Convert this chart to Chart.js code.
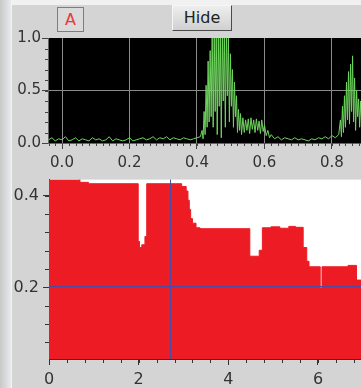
<!DOCTYPE html>
<html>
<head>
<meta charset="utf-8">
<script src="https://cdn.jsdelivr.net/npm/chart.js@4.4.1/dist/chart.umd.min.js"></script>
<style>
  html, body { margin: 0; padding: 0; }
  body { width: 361px; height: 388px; background: #d4d4d4; position: relative; overflow: hidden; font-family: "DejaVu Sans", sans-serif; }
  #topStrip { position: absolute; left: 0; top: 0; width: 361px; height: 5px; background: #f1f1f1; }
  #sideStrip { position: absolute; left: 0; top: 0; width: 11px; height: 388px; background: linear-gradient(to right, #c8c8c8, #e8eaee); border-right: 1px solid #f4f4f4; }
  .chartBox { position: absolute; left: 0; width: 361px; }
  #topBox { top: 0; height: 172px; }
  #bottomBox { top: 166px; height: 222px; }
  #badge { position: absolute; left: 57px; top: 7px; width: 25px; height: 23px; border: 1px solid #e85050; background: #dadada; color: #e83838; font-size: 16px; text-align: center; line-height: 23px; }
  #hide { position: absolute; left: 172px; top: 5px; width: 58px; height: 24px; border: 1px solid; border-color: #f6f6f6 #4a4a4a #4a4a4a #f6f6f6; background: linear-gradient(#eeeeee, #d0d0d0); color: #222; font-size: 16px; text-align: center; line-height: 24px; }
</style>
</head>
<body>
<div id="topStrip"></div>
<div id="sideStrip"></div>
<div class="chartBox" id="topBox"><canvas id="topChart"></canvas></div>
<div class="chartBox" id="bottomBox"><canvas id="bottomChart"></canvas></div>
<div id="badge">A</div>
<div id="hide">Hide</div>
<script>
// upper trace (green signal)
const greenX = [
  -0.04, -0.03, -0.02, -0.01, 0.00, 0.01, 0.02, 0.03, 0.04, 0.05, 0.06, 0.07, 0.08, 0.09, 0.10,
  0.11, 0.12, 0.13, 0.14, 0.15, 0.16, 0.17, 0.18, 0.19, 0.20, 0.21, 0.22, 0.23, 0.24, 0.25,
  0.26, 0.27, 0.28, 0.29, 0.30, 0.31, 0.32, 0.33, 0.34, 0.35, 0.36, 0.37, 0.38, 0.39, 0.40, 0.41,
  0.415, 0.418, 0.421, 0.424, 0.427, 0.430, 0.433, 0.436, 0.439, 0.442, 0.445, 0.448, 0.451, 0.454,
  0.457, 0.460, 0.463, 0.466, 0.469, 0.472, 0.475, 0.478, 0.481, 0.484, 0.487, 0.490, 0.493, 0.496,
  0.499, 0.502, 0.505, 0.508, 0.511, 0.514, 0.517, 0.520, 0.523, 0.526, 0.529, 0.532, 0.536, 0.540,
  0.544, 0.548, 0.552, 0.556, 0.560, 0.564, 0.568, 0.572, 0.576, 0.580, 0.584, 0.588, 0.592, 0.596,
  0.600, 0.605, 0.610, 0.615, 0.620,
  0.63, 0.64, 0.65, 0.66, 0.67, 0.68, 0.69, 0.70, 0.71, 0.72, 0.73, 0.74, 0.75, 0.76, 0.77,
  0.78, 0.79, 0.80, 0.81, 0.82,
  0.825, 0.828, 0.831, 0.834, 0.837, 0.840, 0.843, 0.846, 0.849, 0.852, 0.855, 0.858, 0.861,
  0.864, 0.867, 0.870, 0.873, 0.876, 0.879, 0.882, 0.885, 0.888
];
const greenY = [
  0.03, 0.05, 0.02, 0.04, 0.03, 0.06, 0.02, 0.03, 0.05, 0.02, 0.04, 0.03, 0.02, 0.05, 0.03,
  0.04, 0.02, 0.03, 0.06, 0.02, 0.04, 0.03, 0.02, 0.03, 0.05, 0.02, 0.03, 0.04, 0.05, 0.03,
  0.04, 0.06, 0.03, 0.05, 0.04, 0.06, 0.03, 0.05, 0.04, 0.03, 0.05, 0.04, 0.03, 0.04, 0.05, 0.06,
  0.12, 0.04, 0.30, 0.08, 0.55, 0.15, 0.78, 0.20, 0.88, 0.25, 1.05, 0.15, 1.08, 0.30,
  1.08, 0.08, 1.08, 0.35, 1.08, 0.05, 1.08, 0.40, 1.08, 0.15, 1.08, 0.45, 1.02, 0.20,
  0.85, 0.35, 0.70, 0.15, 0.58, 0.25, 0.45, 0.10, 0.32, 0.12, 0.28, 0.08, 0.24, 0.10,
  0.22, 0.12, 0.23, 0.09, 0.24, 0.13, 0.22, 0.10, 0.23, 0.12, 0.21, 0.09, 0.22, 0.11,
  0.17, 0.07, 0.12, 0.05, 0.08,
  0.04, 0.06, 0.03, 0.05, 0.04, 0.03, 0.05, 0.03, 0.04, 0.03, 0.02, 0.04, 0.03, 0.05, 0.04,
  0.06, 0.04, 0.07, 0.05, 0.08,
  0.22, 0.06, 0.35, 0.10, 0.45, 0.15, 0.58, 0.22, 0.68, 0.18, 0.75, 0.30, 0.83,
  0.20, 0.62, 0.12, 0.50, 0.25, 0.42, 0.15, 0.40, 0.20
];

// lower trace (red stepped area), x = start of each level
const redX = [0.00, 0.69, 0.88, 1.99, 2.02, 2.07, 2.14, 2.18, 2.96, 3.06, 3.10, 3.13, 3.16, 3.20, 3.28,
  3.37, 4.48, 4.69, 4.76, 4.95, 5.15, 5.35, 5.50, 5.67, 5.75, 5.80, 6.05, 6.09, 6.67, 6.86, 6.96];
const redY = [0.44, 0.429, 0.426, 0.30, 0.287, 0.293, 0.311, 0.426, 0.42, 0.41, 0.39, 0.37, 0.35, 0.34, 0.33,
  0.328, 0.268, 0.281, 0.33, 0.332, 0.329, 0.333, 0.331, 0.287, 0.257, 0.245, 0.199, 0.245, 0.248, 0.216, 0.216];

// cursor position
const cursorX = 2.71;
const cursorY = 0.204;

// tick labels
const topXTicks = [0, 0.2, 0.4, 0.6, 0.8];
const topYTicks = [0, 0.5, 1];
const bottomXTicks = [0, 2, 4, 6];
const bottomYTicks = [0.2, 0.4];

function steps(from, to, step) {
  const out = [];
  for (let v = from; v <= to + 1e-9; v += step) out.push(Math.round(v * 1000) / 1000);
  return out;
}

const fontFamily = '"DejaVu Sans", sans-serif';

const plotBackground = {
  id: 'plotBackground',
  beforeDraw(chart, args, opts) {
    const a = chart.chartArea;
    const ctx = chart.ctx;
    ctx.save();
    ctx.fillStyle = opts.color;
    ctx.fillRect(a.left, a.top, a.right - a.left, a.bottom - a.top);
    ctx.restore();
  }
};

const minorTicks = {
  id: 'minorTicks',
  afterDraw(chart, args, opts) {
    const a = chart.chartArea;
    const ctx = chart.ctx;
    ctx.save();
    ctx.strokeStyle = opts.color;
    ctx.lineWidth = 1;
    ctx.beginPath();
    opts.x.forEach(v => {
      const px = Math.round(chart.scales.x.getPixelForValue(v)) + 0.5;
      ctx.moveTo(px, a.bottom);
      ctx.lineTo(px, a.bottom + opts.len);
    });
    opts.y.forEach(v => {
      const py = Math.round(chart.scales.y.getPixelForValue(v)) + 0.5;
      ctx.moveTo(a.left, py);
      ctx.lineTo(a.left - opts.len, py);
    });
    ctx.stroke();
    ctx.restore();
  }
};

// crosshair drawn at the cursor values through the scales
const crosshair = {
  id: 'crosshair',
  afterDatasetsDraw(chart, args, opts) {
    const a = chart.chartArea;
    const ctx = chart.ctx;
    const px = Math.round(chart.scales.x.getPixelForValue(opts.x)) + 0.5;
    const py = Math.round(chart.scales.y.getPixelForValue(opts.y)) + 0.5;
    ctx.save();
    ctx.strokeStyle = opts.color;
    ctx.lineWidth = 1;
    ctx.beginPath();
    ctx.moveTo(px, a.top);
    ctx.lineTo(px, a.bottom);
    ctx.moveTo(a.left, py);
    ctx.lineTo(a.right, py);
    ctx.stroke();
    ctx.restore();
  }
};

new Chart(document.getElementById('topChart'), {
  type: 'line',
  data: {
    datasets: [{
      data: greenX.map((x, i) => ({ x: x, y: greenY[i] })),
      borderColor: '#6fd45f',
      borderWidth: 1,
      pointRadius: 0,
      tension: 0
    }]
  },
  options: {
    animation: false,
    responsive: true,
    maintainAspectRatio: false,
    layout: { padding: { top: 38, right: 0, bottom: 0, left: 0 } },
    plugins: {
      legend: { display: false },
      tooltip: { enabled: false },
      plotBackground: { color: '#000000' },
      minorTicks: { x: steps(-0.04, 0.88, 0.02), y: steps(0, 1, 0.1), color: '#444444', len: 3 }
    },
    scales: {
      x: {
        type: 'linear',
        min: -0.0415,
        max: 0.886,
        afterBuildTicks: s => { s.ticks = topXTicks.map(v => ({ value: v })); },
        afterFit: s => { s.height = 29; },
        grid: { color: '#8a8a8a', tickColor: '#444444', tickLength: 6 },
        border: { color: '#666666' },
        ticks: { autoSkip: false, maxRotation: 0, padding: 5, color: '#333333',
          font: { family: fontFamily, size: 15 }, callback: v => v.toFixed(1) }
      },
      y: {
        min: 0,
        max: 1,
        afterBuildTicks: s => { s.ticks = topYTicks.map(v => ({ value: v })); },
        afterFit: s => { s.width = 48; },
        grid: { color: c => (c.tick && c.tick.value === 0.5) ? '#8a8a8a' : 'rgba(0,0,0,0)', tickColor: '#444444', tickLength: 6 },
        border: { color: '#666666' },
        ticks: { padding: 1, color: '#333333', font: { family: fontFamily, size: 15 }, callback: v => v.toFixed(1) }
      }
    }
  },
  plugins: [plotBackground, minorTicks]
});

new Chart(document.getElementById('bottomChart'), {
  type: 'line',
  data: {
    datasets: [{
      data: redX.map((x, i) => ({ x: x, y: redY[i] })),
      stepped: true,
      fill: 'start',
      backgroundColor: '#ed1c24',
      borderColor: '#ed1c24',
      borderWidth: 1,
      pointRadius: 0
    }]
  },
  options: {
    animation: false,
    responsive: true,
    maintainAspectRatio: false,
    layout: { padding: { top: 2, right: 0, bottom: 0, left: 0 } },
    plugins: {
      legend: { display: false },
      tooltip: { enabled: false },
      plotBackground: { color: '#ffffff' },
      minorTicks: { x: steps(0, 6.8, 0.4), y: steps(0.08, 0.4, 0.04), color: '#333333', len: 4 },
      crosshair: { x: cursorX, y: cursorY, color: '#4b4ba6' }
    },
    scales: {
      x: {
        type: 'linear',
        min: 0,
        max: 6.96,
        afterBuildTicks: s => { s.ticks = bottomXTicks.map(v => ({ value: v })); },
        afterFit: s => { s.height = 29; },
        grid: { drawOnChartArea: false, color: '#333333', tickLength: 6 },
        border: { color: '#333333' },
        ticks: { autoSkip: false, maxRotation: 0, padding: 5, color: '#333333',
          font: { family: fontFamily, size: 16 }, callback: v => String(v) }
      },
      y: {
        min: 0.044,
        max: 0.435,
        afterBuildTicks: s => { s.ticks = bottomYTicks.map(v => ({ value: v })); },
        afterFit: s => { s.width = 49; },
        grid: { drawOnChartArea: false, color: '#333333', tickLength: 6 },
        border: { color: '#333333' },
        ticks: { padding: 4, color: '#333333', font: { family: fontFamily, size: 16 }, callback: v => v.toFixed(1) }
      }
    }
  },
  plugins: [plotBackground, minorTicks, crosshair]
});
</script>
</body>
</html>
